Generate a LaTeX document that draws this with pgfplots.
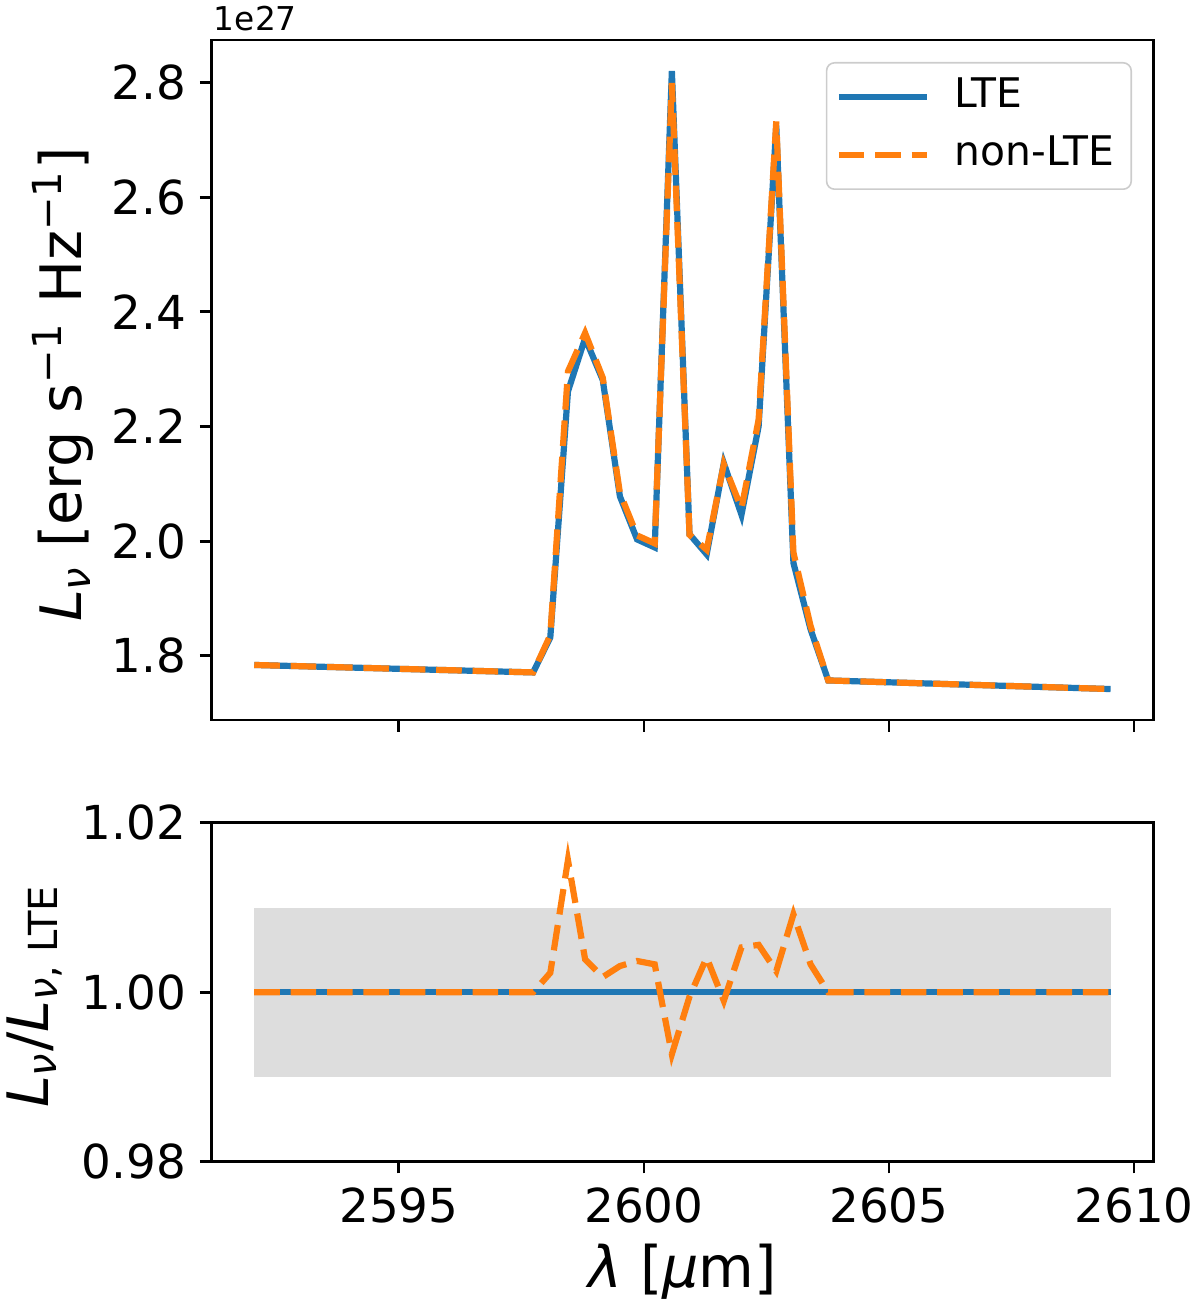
\documentclass[border=0pt]{standalone}
\usepackage{fontspec}
\setmainfont{DejaVu Sans}
\usepackage{pgfplots}
\usepackage{pgfplotstable}
\pgfplotsset{compat=1.18}
\definecolor{mblue}{RGB}{31,119,180}
\definecolor{morange}{RGB}{255,127,14}
\definecolor{bandgray}{RGB}{221,221,221}
\definecolor{legframe}{RGB}{204,204,204}

\pgfplotstableread{
x y
2592.05 1.784
2597.74 1.771
2598.09 1.832
2598.45 2.261
2598.80 2.354
2599.16 2.281
2599.51 2.078
2599.86 2.003
2600.22 1.989
2600.57 2.820
2600.93 2.012
2601.28 1.977
2601.63 2.136
2601.99 2.046
2602.34 2.200
2602.70 2.725
2603.05 1.962
2603.40 1.846
2603.76 1.757
2609.52 1.742
}\lte

\pgfplotstableread{
x y
2592.05 1.784
2597.74 1.771
2598.09 1.836
2598.45 2.296
2598.80 2.363
2599.16 2.285
2599.51 2.084
2599.86 2.010
2600.22 1.996
2600.57 2.799
2600.93 2.011
2601.28 1.985
2601.63 2.134
2601.99 2.057
2602.34 2.212
2602.70 2.732
2603.05 1.980
2603.40 1.852
2603.76 1.757
2609.52 1.742
}\nlte

\pgfplotstableread{
x y
2592.05 1.0000
2597.74 1.0000
2598.09 1.0023
2598.45 1.0156
2598.80 1.0039
2599.16 1.0018
2599.51 1.0031
2599.86 1.0037
2600.22 1.0033
2600.57 0.9927
2600.93 0.9995
2601.28 1.0041
2601.63 0.9990
2601.99 1.0053
2602.34 1.0056
2602.70 1.0025
2603.05 1.0092
2603.40 1.0033
2603.76 1.0000
2609.52 1.0000
}\ratio

\pgfplotstableread{
x y
2592.05 1.0
2597.74 1.0
2598.09 1.0
2598.45 1.0
2598.80 1.0
2599.16 1.0
2599.51 1.0
2599.86 1.0
2600.22 1.0
2600.57 1.0
2600.93 1.0
2601.28 1.0
2601.63 1.0
2601.99 1.0
2602.34 1.0
2602.70 1.0
2603.05 1.0
2603.40 1.0
2603.76 1.0
2609.52 1.0
}\ones

\pgfplotsset{
  mystyle/.style={
    scale only axis,
    width=235.4bp,
    xmin=2591.18, xmax=2610.39,
    axis line style={line width=0.7bp},
    every tick/.style={black, line width=0.7bp},
    tick align=outside,
    major tick length=2.9bp,
    xtick pos=left, ytick pos=left,
    xtick={2595,2600,2605,2610},
    tick label style={font=\fontsize{11.7bp}{14bp}\selectfont},
    /pgf/number format/assume math mode=true,
    scaled y ticks=false, scaled x ticks=false,
    xticklabel style={/pgf/number format/.cd, fixed, set thousands separator={}},
  },
  lteline/.style={mblue, line width=1.55bp},
  nlteline/.style={morange, line width=1.55bp, dash pattern=on 6.4bp off 2.7bp},
}

\begin{document}
\begin{tikzpicture}
\path[use as bounding box] (-52.9bp,10bp) rectangle (247.1bp,-317.5bp);

\begin{axis}[
  mystyle,
  name=top,
  at={(0,0)}, anchor=north west,
  height=170bp,
  ymin=1.688, ymax=2.874,
  ytick={1.8,2.0,2.2,2.4,2.6,2.8},
  yticklabel style={/pgf/number format/.cd, fixed, fixed zerofill, precision=1},
  xticklabels={},
  ylabel={\textit{L}\textsubscript{\textit{ν}} [erg s\textsuperscript{−1} Hz\textsuperscript{−1}]},
  ylabel style={at={(axis description cs:-0.158,0.493)}, anchor=center, font=\fontsize{14.3bp}{17bp}\selectfont},
  legend style={
    at={(rel axis cs:1,1)}, anchor=north east,
    xshift=-5.3bp, yshift=-5.5bp,
    draw=legframe, rounded corners=2bp,
    fill=white, fill opacity=0.8, text opacity=1,
    font=\fontsize{10.2bp}{12bp}\selectfont,
    inner xsep=2.3bp, inner ysep=1.6bp,
    row sep=0.8bp, column sep=4.2bp,
    nodes={inner sep=2bp, text height=7.6bp, text depth=2.2bp},
  },
  legend cell align=left,
  legend image code/.code={\draw[#1] (0bp,0bp) -- (22bp,0bp);},
]
\addplot[lteline] table[x=x,y=y] {\lte};
\addlegendentry{LTE}
\addplot[nlteline] table[x=x,y=y] {\nlte};
\addlegendentry{non-LTE}
\end{axis}

\node[anchor=base west, font=\fontsize{8.2bp}{10bp}\selectfont, inner sep=0pt] at ([xshift=0.4bp,yshift=2.3bp]top.north west) {1e27};

\begin{axis}[
  mystyle,
  name=bot,
  at={(0,-195.7bp)}, anchor=north west,
  height=84.75bp,
  ymin=0.98, ymax=1.02,
  ytick={0.98,1.00,1.02},
  yticklabel style={/pgf/number format/.cd, fixed, fixed zerofill, precision=2},
  xlabel={\textit{λ} [\textit{μ}m]},
  xlabel style={at={(axis description cs:0.5,-0.325)}, anchor=center, font=\fontsize{14.3bp}{17bp}\selectfont},
  ylabel={\textit{L}\textsubscript{\textit{ν}}/\textit{L}\textsubscript{\textit{ν}, LTE}},
  ylabel style={at={(axis description cs:-0.188,0.489)}, anchor=center, font=\fontsize{14.3bp}{17bp}\selectfont},
]
\addplot[fill=bandgray, draw=none] coordinates {(2592.05,0.99) (2609.52,0.99) (2609.52,1.01) (2592.05,1.01)} -- cycle;
\addplot[lteline] table[x=x,y=y] {\ones};
\addplot[nlteline] table[x=x,y=y] {\ratio};
\end{axis}
\end{tikzpicture}
\end{document}
